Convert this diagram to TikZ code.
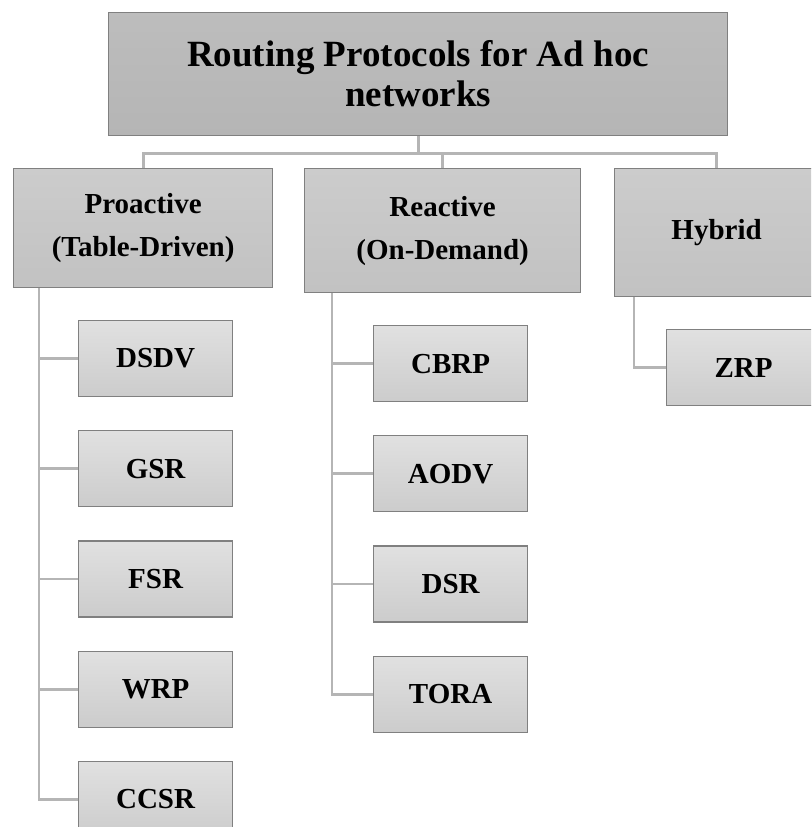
\documentclass[tikz,border=0pt]{standalone}
\usepackage{fontspec}
\setmainfont{Liberation Serif}
\usetikzlibrary{positioning}
\tikzset{
    basic/.style={draw=black!50, line width=1.2pt, rectangle, align=center, inner sep=0pt},
    link/.style={draw=black!29, line width=2.8pt}
}

\begin{document}
\begin{tikzpicture}[
    x=1pt, y=-1pt,
    node distance=33pt, % gap between leaf boxes
    % styles
    root/.style={basic, top color=black!26, bottom color=black!29, minimum width=619pt, minimum height=123pt, font=\fontsize{37}{40}\selectfont\bfseries},
    group/.style={basic, top color=black!20, bottom color=black!24, font=\fontsize{29}{43}\selectfont\bfseries},
    leaf/.style={basic, top color=black!12, bottom color=black!20, minimum width=154pt, minimum height=76pt, font=\fontsize{29}{34}\selectfont\bfseries}
]
    \useasboundingbox (0,0) rectangle (811,827);
    \clip (0,0) rectangle (811,827);

    % ============================================================
    % Level 0 and 1: root and the three families
    % ============================================================
    \node[root, anchor=north west] (root) at (108,12) {Routing Protocols for Ad hoc\\networks};

    \node[group, anchor=north west, minimum width=259pt, minimum height=119pt] (pro) at (13,168) {Proactive\\(Table-Driven)};
    \node[group, anchor=north west, minimum width=276pt, minimum height=124pt] (rea) at (304,168) {Reactive\\(On-Demand)};
    \node[group, anchor=north west, minimum width=204pt, minimum height=128pt] (hyb) at (614,168) {Hybrid};

    % ============================================================
    % Level 2: protocols (stacked under each family)
    % ============================================================
    % Proactive
    \node[leaf, anchor=north west] (dsdv) at (78,320) {DSDV};
    \node[leaf, below=of dsdv] (gsr) {GSR};
    \node[leaf, below=of gsr] (fsr) {FSR};
    \node[leaf, below=of fsr] (wrp) {WRP};
    \node[leaf, below=of wrp] (ccsr) {CCSR};

    % Reactive
    \node[leaf, anchor=north west] (cbrp) at (373,325) {CBRP};
    \node[leaf, below=of cbrp] (aodv) {AODV};
    \node[leaf, below=of aodv] (dsr) {DSR};
    \node[leaf, below=of dsr] (tora) {TORA};

    % Hybrid
    \node[leaf, anchor=north west] (zrp) at (666,329) {ZRP};

    % ============================================================
    % Connections
    % ============================================================
    \draw[link] (root.south) -- ++(0,17) -| (pro.north);
    \draw[link] (root.south) -- ++(0,17) -| (rea.north);
    \draw[link] (root.south) -- ++(0,17) -| (hyb.north);

    \foreach \n in {dsdv, gsr, fsr, wrp, ccsr}
        \draw[link] ([xshift=26pt]pro.south west) |- (\n.west);
    \foreach \n in {cbrp, aodv, dsr, tora}
        \draw[link] ([xshift=28pt]rea.south west) |- (\n.west);
    \draw[link] ([xshift=20pt]hyb.south west) |- (zrp.west);

\end{tikzpicture}
\end{document}
